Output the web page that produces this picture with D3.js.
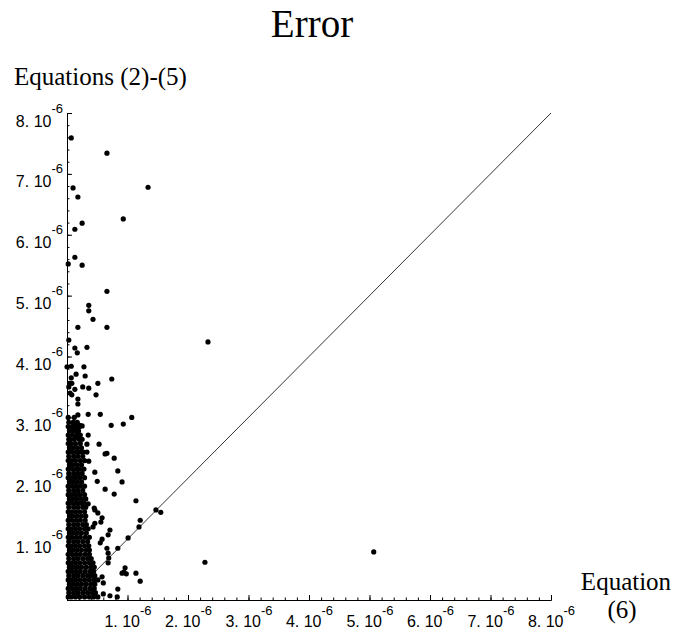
<!DOCTYPE html>
<html>
<head>
<meta charset="utf-8">
<script src="https://cdn.jsdelivr.net/npm/d3@7"></script>
<style>
  body { margin: 0; background: #fff; }
</style>
</head>
<body>
<div id="chart"></div>
<script>
// values are in units of 1e-6
const unit = 1e-6;
const majorTicks = [1, 2, 3, 4, 5, 6, 7, 8];
const tickLabels = ["1. 10", "2. 10", "3. 10", "4. 10", "5. 10", "6. 10", "7. 10", "8. 10"];
const tickExponent = "-6";

// diagonal reference line y = x
const diagonal = [[0, 0], [8, 8]];

// scattered points [x, y]
const sparsePoints = [
  [0.07, 7.59], [0.66, 7.34], [1.34, 6.78], [0.10, 6.77], [0.18, 6.62],
  [0.93, 6.26], [0.25, 6.19], [0.13, 6.09], [0.13, 5.63], [0.02, 5.52],
  [0.25, 5.50], [0.66, 5.07], [0.36, 4.84], [0.36, 4.75], [0.43, 4.61],
  [0.18, 4.48], [0.66, 4.48], [2.33, 4.24], [0.03, 4.27], [0.13, 4.14],
  [0.33, 4.15], [0.17, 4.06], [0.00, 3.83], [0.07, 3.84], [0.28, 3.83],
  [0.15, 3.71], [0.30, 3.68], [0.74, 3.63], [0.07, 3.65], [0.05, 3.56],
  [0.08, 3.56], [0.03, 3.50], [0.51, 3.56], [0.26, 3.50], [0.36, 3.48],
  [0.13, 3.46], [0.05, 3.40], [0.08, 3.37], [0.48, 3.37], [0.18, 3.30],
  [0.18, 3.22], [0.02, 3.00], [0.12, 3.00], [0.18, 3.04], [0.35, 3.05],
  [0.55, 3.05], [1.07, 3.00], [0.93, 2.89], [0.73, 2.87], [0.12, 2.91],
  [0.21, 2.87], [0.25, 2.86], [0.13, 2.84], [0.17, 2.78], [0.10, 2.78],
  [0.18, 2.74], [0.35, 2.71], [0.15, 2.68], [0.05, 2.64], [0.25, 2.64],
  [0.33, 2.56], [0.53, 2.56], [0.33, 2.43], [0.63, 2.40], [0.66, 2.41],
  [0.78, 2.33], [0.36, 2.28], [0.84, 2.12], [0.46, 2.10], [0.91, 1.94],
  [0.50, 1.95], [0.63, 1.82], [0.78, 1.74], [1.14, 1.63], [0.35, 1.58],
  [0.45, 1.51], [0.46, 1.48], [0.51, 1.43], [1.47, 1.48], [1.55, 1.44],
  [0.56, 1.28], [0.58, 1.35], [1.21, 1.31], [0.46, 1.26], [0.43, 1.20],
  [1.19, 1.20], [0.71, 1.15], [0.68, 1.07], [1.01, 1.02], [0.58, 1.00],
  [0.55, 0.94], [0.84, 0.85], [0.66, 0.85], [0.68, 0.77], [0.69, 0.69],
  [0.68, 0.61], [2.28, 0.62], [5.07, 0.79], [0.96, 0.53], [0.94, 0.46],
  [0.91, 0.44], [0.98, 0.43], [1.14, 0.44], [1.21, 0.31], [0.60, 0.28],
  [0.58, 0.38], [0.51, 0.33], [0.84, 0.18], [0.83, 0.05], [0.60, 0.10],
  [0.71, 0.07], [0.51, 0.05]
];

// dense cluster near the y axis: [y, [x values]]
const denseRows = [
  [2.92, [0.03, 0.10, 0.17]],
  [2.85, [0.02, 0.08, 0.15, 0.21]],
  [2.78, [0.04, 0.11, 0.19]],
  [2.71, [0.02, 0.09, 0.16, 0.22]],
  [2.64, [0.03, 0.12, 0.20]],
  [2.57, [0.02, 0.07, 0.14, 0.22]],
  [2.50, [0.04, 0.10, 0.17, 0.24]],
  [2.43, [0.02, 0.08, 0.15, 0.21, 0.27]],
  [2.36, [0.03, 0.11, 0.18, 0.26]],
  [2.29, [0.02, 0.07, 0.14, 0.22, 0.29]],
  [2.22, [0.04, 0.10, 0.17, 0.24]],
  [2.15, [0.02, 0.08, 0.15, 0.21, 0.28]],
  [2.08, [0.03, 0.11, 0.18, 0.25]],
  [2.01, [0.02, 0.07, 0.14, 0.21, 0.29]],
  [1.94, [0.04, 0.10, 0.17, 0.24]],
  [1.87, [0.02, 0.08, 0.15, 0.22, 0.29]],
  [1.80, [0.03, 0.11, 0.18, 0.26]],
  [1.73, [0.02, 0.07, 0.14, 0.21, 0.29]],
  [1.66, [0.04, 0.10, 0.17, 0.24, 0.31]],
  [1.59, [0.02, 0.08, 0.15, 0.22, 0.28]],
  [1.52, [0.03, 0.11, 0.18, 0.26, 0.31]],
  [1.45, [0.02, 0.07, 0.14, 0.21, 0.29]],
  [1.38, [0.04, 0.10, 0.17, 0.24, 0.31]],
  [1.31, [0.02, 0.08, 0.15, 0.22, 0.30]],
  [1.24, [0.03, 0.11, 0.18, 0.26, 0.32]],
  [1.17, [0.02, 0.07, 0.14, 0.21, 0.29, 0.35]],
  [1.10, [0.04, 0.10, 0.17, 0.24, 0.32]],
  [1.03, [0.02, 0.08, 0.15, 0.22, 0.30, 0.37]],
  [0.96, [0.03, 0.11, 0.18, 0.26, 0.34]],
  [0.89, [0.02, 0.07, 0.14, 0.21, 0.29, 0.36]],
  [0.82, [0.04, 0.10, 0.17, 0.24, 0.32, 0.37]],
  [0.75, [0.02, 0.08, 0.15, 0.22, 0.30, 0.37]],
  [0.68, [0.03, 0.11, 0.18, 0.26, 0.34, 0.40]],
  [0.61, [0.02, 0.07, 0.14, 0.21, 0.29, 0.37, 0.43]],
  [0.54, [0.04, 0.10, 0.17, 0.24, 0.32, 0.40, 0.45]],
  [0.47, [0.02, 0.08, 0.15, 0.22, 0.30, 0.38, 0.44]],
  [0.40, [0.03, 0.11, 0.18, 0.26, 0.34, 0.41, 0.46]],
  [0.33, [0.02, 0.07, 0.14, 0.21, 0.29, 0.37, 0.45]],
  [0.26, [0.04, 0.10, 0.17, 0.24, 0.32, 0.40, 0.46]],
  [0.19, [0.02, 0.08, 0.15, 0.22, 0.30, 0.38, 0.45]],
  [0.12, [0.03, 0.11, 0.18, 0.26, 0.34, 0.42, 0.47]],
  [0.05, [0.02, 0.07, 0.14, 0.21, 0.29, 0.37, 0.44]]
];

const width = 676, height = 635;
const margin = { top: 113, right: 125, bottom: 35, left: 67 };

const svg = d3
  .select("#chart")
  .append("svg")
  .attr("width", width)
  .attr("height", height);

const x = d3.scaleLinear().domain([0, 8 * unit]).range([margin.left, width - margin.right]);
const y = d3.scaleLinear().domain([0, 8 * unit]).range([height - margin.bottom, margin.top]);

const serif = "'Liberation Serif', 'Times New Roman', serif";
const sans = "'Liberation Sans', Arial, Helvetica, sans-serif";

// minor ticks
svg
  .append("g")
  .attr("transform", `translate(0, ${y(0)})`)
  .call(d3.axisBottom(x).tickValues(x.ticks(40)).tickSizeInner(-2.5).tickSizeOuter(0).tickFormat(""));
svg
  .append("g")
  .attr("transform", `translate(${x(0)}, 0)`)
  .call(d3.axisLeft(y).tickValues(y.ticks(40)).tickSizeInner(-2.5).tickSizeOuter(0).tickFormat(""));

// major ticks
const xAxis = svg
  .append("g")
  .attr("transform", `translate(0, ${y(0)})`)
  .call(d3.axisBottom(x).tickValues(majorTicks.map((d) => d * unit)).tickSizeInner(-5).tickSizeOuter(0).tickFormat(""));
const yAxis = svg
  .append("g")
  .attr("transform", `translate(${x(0)}, 0)`)
  .call(d3.axisLeft(y).tickValues(majorTicks.map((d) => d * unit)).tickSizeInner(-5).tickSizeOuter(0).tickFormat(""));

svg.selectAll(".domain, .tick line").attr("stroke", "#000").attr("stroke-width", 1);

// tick labels "N. 10^-6"
xAxis
  .selectAll(".tick")
  .append("text")
  .attr("y", 27)
  .attr("text-anchor", "middle")
  .attr("fill", "#000")
  .style("font-family", sans)
  .style("font-size", "16px")
  .text((d, i) => tickLabels[i])
  .append("tspan")
  .attr("dy", -12)
  .style("font-size", "13px")
  .text(tickExponent);

yAxis
  .selectAll(".tick")
  .append("text")
  .attr("x", -4)
  .attr("y", 13)
  .attr("text-anchor", "end")
  .attr("fill", "#000")
  .style("font-family", sans)
  .style("font-size", "16px")
  .text((d, i) => tickLabels[i])
  .append("tspan")
  .attr("dy", -14)
  .style("font-size", "13px")
  .text(tickExponent);

// diagonal
svg
  .append("line")
  .attr("x1", x(diagonal[0][0] * unit))
  .attr("y1", y(diagonal[0][1] * unit))
  .attr("x2", x(diagonal[1][0] * unit))
  .attr("y2", y(diagonal[1][1] * unit))
  .attr("stroke", "#000")
  .attr("stroke-width", 0.8);

// points
const densePoints = denseRows.flatMap((row) => row[1].map((v) => [v, row[0]]));
const allPoints = sparsePoints.concat(densePoints);

svg
  .append("g")
  .selectAll("circle")
  .data(allPoints)
  .join("circle")
  .attr("cx", (d) => x(d[0] * unit))
  .attr("cy", (d) => y(d[1] * unit))
  .attr("r", 2.6)
  .attr("fill", "#000");

// titles
svg
  .append("text")
  .attr("x", 312)
  .attr("y", 37)
  .attr("text-anchor", "middle")
  .style("font-family", serif)
  .style("font-size", "39px")
  .text("Error");

svg
  .append("text")
  .attr("x", 14)
  .attr("y", 85)
  .style("font-family", serif)
  .style("font-size", "25px")
  .text("Equations (2)-(5)");

svg
  .append("text")
  .attr("x", 626)
  .attr("y", 590)
  .attr("text-anchor", "middle")
  .style("font-family", serif)
  .style("font-size", "25px")
  .text("Equation");

svg
  .append("text")
  .attr("x", 622)
  .attr("y", 618)
  .attr("text-anchor", "middle")
  .style("font-family", serif)
  .style("font-size", "25px")
  .text("(6)");
</script>
</body>
</html>
